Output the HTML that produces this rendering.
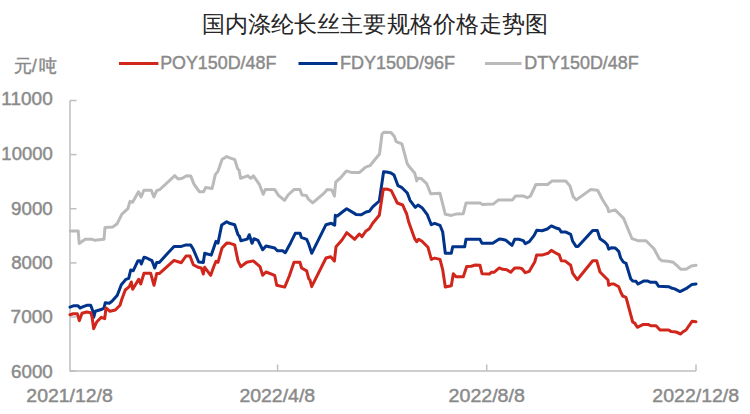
<!DOCTYPE html>
<html><head><meta charset="utf-8"><style>
html,body{margin:0;padding:0;background:#fff;width:750px;height:414px;overflow:hidden}
svg{display:block}
text{font-family:"Liberation Sans",sans-serif}
</style></head><body>
<svg width="750" height="414" viewBox="0 0 750 414">
<rect width="750" height="414" fill="#fff"/>
<text x="202" y="32" font-size="22.5" textLength="346" lengthAdjust="spacingAndGlyphs" fill="#262626">国内涤纶长丝主要规格价格走势图</text>
<g fill="#8a8a8a" stroke="#8a8a8a" stroke-width="0.45">
<text x="13.8" y="72" font-size="18">元</text><text x="31.8" y="72" font-size="18">/</text><text x="39.2" y="72" font-size="18">吨</text>
<text x="1.39" y="105" font-size="18" textLength="51.33" lengthAdjust="spacingAndGlyphs">11000</text>
<text x="1.39" y="159.8" font-size="18" textLength="51.33" lengthAdjust="spacingAndGlyphs">10000</text>
<text x="11.12" y="214.8" font-size="18" textLength="41.61" lengthAdjust="spacingAndGlyphs">9000</text>
<text x="11.19" y="269.4" font-size="18" textLength="41.54" lengthAdjust="spacingAndGlyphs">8000</text>
<text x="10.63" y="323" font-size="18" textLength="42.11" lengthAdjust="spacingAndGlyphs">7000</text>
<text x="11.05" y="377.6" font-size="18" textLength="41.68" lengthAdjust="spacingAndGlyphs">6000</text>
<text x="26.32" y="401.8" font-size="18" textLength="86.52" lengthAdjust="spacingAndGlyphs">2021/12/8</text>
<text x="239.42" y="401.8" font-size="18" textLength="75.72" lengthAdjust="spacingAndGlyphs">2022/4/8</text>
<text x="448.62" y="401.8" font-size="18" textLength="76.24" lengthAdjust="spacingAndGlyphs">2022/8/8</text>
<text x="652.32" y="401.8" font-size="18" textLength="86.83" lengthAdjust="spacingAndGlyphs">2022/12/8</text>
<text x="160.13" y="69" font-size="18" textLength="116.18" lengthAdjust="spacingAndGlyphs">POY150D/48F</text>
<text x="340.12" y="69" font-size="18" textLength="115.00" lengthAdjust="spacingAndGlyphs">FDY150D/96F</text>
<text x="524.23" y="69" font-size="18" textLength="114.49" lengthAdjust="spacingAndGlyphs">DTY150D/48F</text>
</g>
<g stroke-width="3" stroke-linecap="butt">
<line x1="119" y1="63.4" x2="158.4" y2="63.4" stroke="#d0261b"/>
<line x1="298.5" y1="63.4" x2="337.5" y2="63.4" stroke="#00338a"/>
<line x1="485" y1="63.4" x2="521.5" y2="63.4" stroke="#bababa"/>
</g>
<g stroke="#bfbfbf" stroke-width="1.5" fill="none">
<polyline points="70,100.5 70,371 696,371"/>
<line x1="70" y1="100.5" x2="76.5" y2="100.5"/><line x1="70" y1="154.6" x2="76.5" y2="154.6"/><line x1="70" y1="208.7" x2="76.5" y2="208.7"/><line x1="70" y1="262.9" x2="76.5" y2="262.9"/><line x1="70" y1="317.0" x2="76.5" y2="317.0"/><line x1="70" y1="371.1" x2="76.5" y2="371.1"/><line x1="277.6" y1="371" x2="277.6" y2="364.5"/><line x1="486.7" y1="371" x2="486.7" y2="364.5"/><line x1="696" y1="371" x2="696" y2="364.5"/>
</g>
<g fill="none" stroke-width="3" stroke-linejoin="round" stroke-linecap="round">
<polyline stroke="#bababa" points="70.3,231 78.2,231 79.2,243.5 85.2,239.2 91.6,239.2 94.8,240.3 104,239.2 105,227.5 112.9,226.9 117.2,223.7 121.9,214.1 127.9,208.7 130,201.3 132.6,202.3 138.5,191.7 141.1,197 143.9,190.2 151.3,190.2 153.9,197 156.7,190.6 159.9,189.5 174.8,175.7 178,178.9 182.3,178.2 186.5,175.7 190.8,176.1 194,184.2 199.3,191.7 203.6,191.7 205.7,187.4 212.1,188.5 215.3,174.6 217.9,171.4 222,159.6 226.7,156.6 230.5,158.1 234.8,159.6 237.6,168.7 239.1,170.2 240.6,178.3 247.6,175.8 250.8,178.3 253.4,175.8 259.3,184.3 263.2,194.3 265.3,189.6 274.7,189.6 278.5,195.4 284.5,200.3 288.1,195 293.9,189.6 299.9,189.6 302,195 306.3,195.4 308.4,199.2 312.7,202.9 324.4,192.8 327.2,189.6 331.9,190.1 334.4,196 335.7,182.2 340.4,177.9 346.4,170.9 351.1,172.4 359.6,172.4 365.6,167.2 369.9,165.7 379.5,154 382,134 383.8,132.3 391,132.6 394.4,136.5 396.1,141.6 401.9,143.8 407.2,163.6 409.3,166.8 414.7,173 416.7,181 417.3,178.3 421.3,178.6 426.7,183.7 430.7,193.7 440,193.3 445.3,214.3 451.3,215.4 456,214.1 463.3,213.7 466,203 480.4,203.1 482.5,204.6 493.2,204.1 498.5,199.9 512.4,199.9 515.6,196 523.1,196 527.3,197.7 530.5,196 535.9,184.5 547.6,184.5 551.9,181.1 565.7,181.1 570,186 573.2,196.7 576.4,199.9 590.5,189.6 597.6,190.2 602.3,199.2 607.6,207.7 608.7,211.6 615.1,209.9 623.6,218.4 628.7,230.7 632,238.7 638,240.7 646,240.7 654,248.7 659.3,258.7 662,260.7 668,261.3 673.3,262.3 676.7,265.3 680.7,269.3 686,269.3 691.3,266 696,265.3"/>
<polyline stroke="#00338a" points="70,307.1 74,305.7 78,305.7 80,308 83.3,306.7 86.7,305.3 90.7,305.3 92.7,310.7 93.7,317.3 95.3,311.3 102,309.3 104,308 105.3,302.7 109.3,303.3 112,301.3 117.3,295.3 121.3,284.7 126,279.3 128.7,278.4 130.7,270 133.3,270.7 138,260.7 140,260.7 141.3,264 144,257.3 146.7,258 152,260.7 154.7,268 156.7,262.4 159.3,262.4 174,246.4 181.3,246.4 185.3,245.1 190.7,245.1 193.3,249.3 198.7,262 203.3,262.4 204.7,253.3 211.3,255.1 216,241.3 218,243.1 221.7,224.9 226.7,221.7 229.3,223.3 234.7,224.7 238,234.7 239.3,236 240.9,240.7 247.3,239.1 249.3,234.7 252,243.3 254,238.7 258,240.4 262.7,249.7 266,246 274.7,248 277.3,250.7 282.7,250.7 285.3,252.7 290.7,242.7 295.3,233.3 300,233.3 301.3,237.3 306.7,239.3 308.7,244 311.7,253.3 326,224.7 331.3,223.3 334.7,225.1 335.3,215.3 337.3,216 343.3,211.3 346.7,208.7 356,214.4 361.3,214.7 366,212 369.3,211.3 372.7,206.9 379.3,201 383.6,171.8 386.7,172 391,173 394,175 398,185.7 402,187.7 407.3,193 410,200.3 415.3,207.4 418,205 422,207.7 427.3,214.7 431.3,224.7 434.7,223.3 440,225.3 442.7,232 445.3,253.3 451.3,253.3 452.7,246.7 464.7,246.7 466,239.3 480,239.3 482,243.3 492.7,243.3 499.3,239 502,239.3 506,240.3 512,245.4 514.7,239.3 518.7,239.3 523.3,240.6 525.3,243.7 529.3,241.7 534,235.7 536.7,230.3 542,230.7 547.3,229 551.3,225.9 555.3,227.7 559.3,229 561.3,232.1 566,232.1 570.7,234.4 572.7,241.3 576,246.4 578,246.4 592.7,230.4 597.3,230.4 600,238.7 604.7,242 607.3,244.7 608.7,249.1 611.3,247.7 615.3,248 618.7,251.3 620.7,258 623.3,262 626,263.3 630.7,278.7 632.7,280.9 636,281.3 638,284 644,280.9 647.3,280.9 650.7,282.3 656,282.3 658.7,286.3 668.7,286.7 671.3,288 674.7,288.9 680,291.6 686,288.7 692,284.4 696,284"/>
<polyline stroke="#d0261b" points="70,314.7 73.3,313.7 77.3,313.7 79.3,320.7 82,313.3 86.7,312 90.7,312.7 92,316.7 93.7,328.7 96.7,322 101.3,317.3 104.7,318.7 106,308 110,311.3 115.3,310 120,305.3 122,298.7 125.3,290 129.3,286.7 131.3,282 132.7,289.3 138.7,279.3 140.7,284 144,273.3 150.7,273.3 154,285.3 156.7,273.6 159.3,273.6 174,260.4 176.7,261.3 181.3,262.7 186,256 190,256 193.3,264.7 198,267.3 201.3,268 203.3,274 204.7,267.3 210.7,275.3 214,266 216,261.3 218,262.3 222,248 226.7,243.1 230,243.3 234.7,244.9 238,260.9 240.7,266.7 246.7,262.3 253.3,260.9 260,266.7 262.7,275.3 266,272 274.7,275.3 276.7,285.3 284.7,287.1 289.3,276 294,262.3 300,262.3 301.6,268 306.7,270.9 308.7,278.7 310,280 311.7,286.7 326,258 330.7,256.7 334.4,261.1 336,246.7 342,240 346.7,232.7 354.7,239.3 359.3,234 362,236.7 366,230.9 369.3,228.7 372.7,223.3 379.3,215.3 383.3,189 388,189.3 391.3,190.6 397.3,203 402.7,205 404.7,209.7 406.7,214 408.7,222 414.7,238.7 416.7,241.7 418.7,239.3 422,241.3 428,247.3 431.3,259.4 434.7,258.1 440,259.4 442.7,269.7 445.3,287 451.3,285.7 453.3,273.7 456,276.7 463.3,276.7 466.7,266.6 471.3,266.3 475.3,265 480,265.3 482,273.7 489.3,274.1 491.3,272.3 494,272.3 499.3,267.9 502.7,269.3 506.7,269.7 510.7,272.3 514.7,267.9 519.3,267.9 522,268.7 525.3,272.7 529.3,271.3 534.7,262 536.7,254.9 542.7,254.9 548,253.3 551.3,250.4 555.3,252.7 559.3,254.9 561.3,260.7 565.3,261.1 570.7,265.3 572.7,273.3 577.3,279.7 592.7,260.7 596.7,260.7 600,272 604.7,276.7 608,280 608.7,285.3 611.3,284 614,284 618.7,286.7 620.7,292 622.7,296 626,297.3 627.3,302 632.7,322 634.7,323.1 637.3,327.3 643.3,324.4 648,324.4 650.7,325.7 656,325.7 660,330 668.7,330 671.3,331.6 676,332 680.7,334 682.7,332 686,330 692,321.3 696,321.7"/>
</g>
</svg>
</body></html>
